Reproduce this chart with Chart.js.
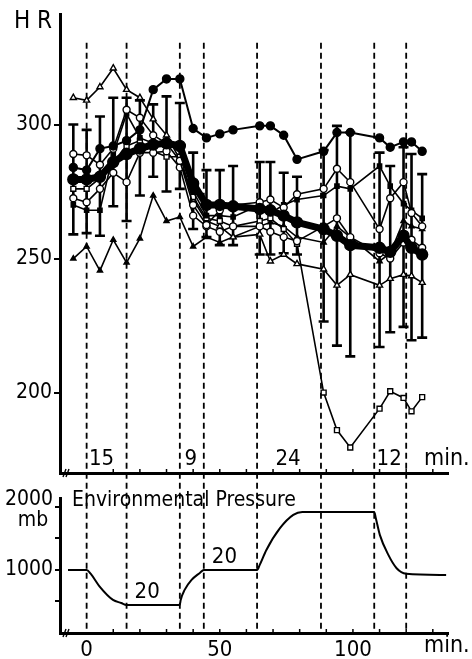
<!DOCTYPE html>
<html>
<head>
<meta charset="utf-8">
<script src="https://cdn.jsdelivr.net/npm/chart.js@4"></script>
<style>
  html, body { margin: 0; padding: 0; background: #fff; }
  #wrap { position: relative; width: 472px; height: 659px; }
  canvas { position: absolute; left: 0; top: 0; }
</style>
</head>
<body>
<div id="wrap">
  <canvas id="pressure" width="472" height="659"></canvas>
  <canvas id="hr" width="472" height="659"></canvas>
</div>
<script>
const FONT = "'Liberation Sans Narrow', 'DejaVu Sans Condensed', 'Liberation Sans', sans-serif";

// sample times (min) for heart rate
const times = [-5, 0, 5, 10, 15, 20, 25, 30, 35, 40, 45, 50, 55, 65, 69, 74, 79, 89, 94, 99, 110, 114, 119, 122, 126];

// mean HR with error bar ends
const hrMean  = [279.5, 279.5, 280.5, 286, 289, 291, 292.5, 293, 292, 278, 270, 270, 269.5, 268.5, 268, 266, 263.5, 261, 258.5, 255, 254, 252.5, 258.5, 254, 251.5];
const hrUpper = [300, 298, 303, 310, 310, 309, 307.5, 310.5, 308, 289.5, 283, 283, 284.5, 286, 286, 282, 280.5, 290.5, 299.5, 297, 289.5, 284.5, 291.5, 289, 281.5];
const hrLower = [259, 259.5, 258.5, 269.5, 264, 273.5, 280.5, 275, 276, 261, 258, 255, 255, 251.5, 251.5, 252, 251.5, 226.5, 217.5, 213.5, 217, 222.5, 224.5, 219.5, 220.5];

// individual animals
const hrOpenTriangle = [310, 309, 314, 321, 313, 310, 302, 296, 287, 272, 264, 262, 258, 259, 249, 251.5, 248, 246, 240, 244, 240, 242.5, 244, 243.5, 241];
const hrSolidTriangle = [250, 254.5, 245.5, 257, 248.5, 257.5, 273.5, 264, 265.5, 254.5, 258, 256, 258, 262, 263.5, 262, 258, 256, 262, 258, 249, 252, 264, 262, 261];
const hrSolidCircle = [284, 283, 291, 292, 294, 298, 313, 317, 317, 298.5, 295, 296.5, 298, 299.5, 299.5, 296, 287, 290, 297, 297, 295, 291.5, 293.5, 293.5, 290];
const hrOpenCircleA = [289, 288.5, 285, 291, 305.5, 302.5, 296, 293, 286.5, 270, 262.5, 268, 270, 271, 272, 269, 274, 276, 283.5, 278.5, 261, 272.5, 278.5, 267, 262];
const hrOpenCircleB = [272.5, 271, 276, 282, 278.5, 289.5, 289.5, 290, 284, 266, 262, 260, 262, 262, 260, 258, 256.5, 262, 265, 258, 252, 250, 256, 257, 254];
const hrSolidSquare = [270, 268, 268, 289, 304, 295, 293, 292, 291, 275, 266, 266, 265.5, 270, 267, 270, 272, 273.5, 277, 276, 284.5, 277, 270.5, 268, 265];
const hrOpenSquare = [276, 276, 280, 286, 292, 294, 290, 288, 288, 273, 265, 264, 262, 264, 265, 261, 255.5, 200, 186, 179.5, 194, 200.5, 198, 193, 198.3];

const hrTicks = [200, 250, 300];

// environmental pressure profile
const pressureTimes = [-7, 0, 1.5, 4.9, 9.9, 13, 15, 35, 35.3, 36.8, 39.4, 42.5, 44, 64, 65, 67.5, 72.6, 77.6, 81, 108, 108.6, 110.1, 113.3, 116.4, 120, 135];
const pressureMb    = [1000, 1000, 940, 735, 524, 476, 444, 444, 520, 683, 841, 952, 1000, 1000, 1080, 1317, 1662, 1873, 1920, 1920, 1820, 1556, 1238, 1027, 940, 920];
const pressureTicks = [500, 1000, 1500, 2000];

// phase boundaries (min) and labels
const phaseLines = [0, 15, 35, 44, 64, 88, 108, 120];
const changeLabels = ['15', '9', '24', '12'];   // between 0-15, 35-44, 64-88, 108-120
const holdLabels = ['20', '20', '20'];           // between 15-35, 44-64, 88-108
const xLabels = [0, 50, 100];

const toXY = (xs, ys) => xs.map((t, i) => ({ x: t, y: ys[i] }));

function series(data, style, radius, fill, width) {
  return {
    data: toXY(times, data),
    borderColor: '#000',
    borderWidth: width || 1.6,
    pointStyle: style,
    pointRadius: radius,
    pointBackgroundColor: fill,
    pointBorderColor: '#000',
    pointBorderWidth: 1.4,
    tension: 0
  };
}

function axisX(opts) {
  return Object.assign({
    type: 'linear', min: -10, max: 135.7,
    border: { display: true, color: '#000', width: 3 },
    grid: { display: false }
  }, opts);
}

// small upward ticks and axis break on x axis
const xDecor = {
  id: 'xDecor',
  afterDraw(chart) {
    const { ctx, chartArea, scales: { x } } = chart;
    const yb = chartArea.bottom;
    ctx.save();
    ctx.strokeStyle = '#000';
    ctx.lineWidth = 1.5;
    for (let v = 10; v <= 130; v += 10) {
      const px = x.getPixelForValue(v);
      ctx.beginPath(); ctx.moveTo(px, yb); ctx.lineTo(px, yb - 4); ctx.stroke();
    }
    ctx.lineWidth = 1.4;
    ctx.beginPath();
    ctx.moveTo(63, yb + 4); ctx.lineTo(66, yb - 4);
    ctx.moveTo(66, yb + 4); ctx.lineTo(69, yb - 4);
    ctx.stroke();
    ctx.restore();
  }
};

const prChart = new Chart(document.getElementById('pressure'), {
  type: 'line',
  data: {
    datasets: [{
      data: toXY(pressureTimes, pressureMb),
      borderColor: '#000', borderWidth: 2, pointRadius: 0,
      cubicInterpolationMode: 'monotone'
    }]
  },
  options: {
    responsive: false, animation: false,
    layout: { padding: { top: 498, right: 24, left: 0, bottom: 0 } },
    plugins: { legend: { display: false }, tooltip: { enabled: false } },
    scales: {
      x: axisX({
        afterBuildTicks: s => { s.ticks = xLabels.map(v => ({ value: v })); },
        afterFit: s => { s.height = 26; },
        ticks: { color: '#000', font: { family: FONT, size: 22 }, padding: -4 }
      }),
      y: {
        type: 'linear', min: 0, max: 2140,
        afterBuildTicks: s => { s.ticks = pressureTicks.map(v => ({ value: v })); },
        afterFit: s => { s.width = 60; },
        border: { display: true, color: '#000', width: 3 },
        grid: { display: true, drawOnChartArea: false, drawTicks: true, tickLength: 5, color: '#000', lineWidth: 2 },
        ticks: {
          color: '#000', font: { family: FONT, size: 21 }, padding: 2,
          callback: v => (v === 1000 ? '1000' : '')
        }
      }
    }
  },
  plugins: [xDecor, {
    id: 'prText',
    afterDraw(chart) {
      const { ctx, chartArea, scales: { x, y } } = chart;
      ctx.save();
      ctx.fillStyle = '#000';
      ctx.textBaseline = 'middle';
      ctx.font = `21px ${FONT}`;
      ctx.textAlign = 'right';
      ctx.fillText('2000', 53, 500);
      ctx.textAlign = 'center';
      ctx.fillText('mb', 33, 521);
      ctx.textAlign = 'left';
      ctx.font = `21px ${FONT}`;
      ctx.fillText('Environmental Pressure', 72, 501);
      ctx.font = `23px ${FONT}`;
      ctx.fillText('min.', 424, 646);
      // hold durations
      ctx.textAlign = 'center';
      ctx.font = `22px ${FONT}`;
      const holds = [[15, 35], [44, 64], [88, 108]];
      const offs = [-13, -13, 15];
      holds.forEach((h, i) => {
        const t = (h[0] + h[1]) / 2;
        const j = pressureTimes.indexOf(h[0]);
        const py = y.getPixelForValue(pressureMb[j]);
        ctx.fillText(holdLabels[i], x.getPixelForValue(t) - 6, py + offs[i]);
      });
      ctx.restore();
    }
  }]
});

const hrChart = new Chart(document.getElementById('hr'), {
  type: 'line',
  data: {
    datasets: [
      Object.assign(series(hrMean, 'circle', 5.5, '#000', 7), { borderJoinStyle: 'round', borderCapStyle: 'round' }),
      series(hrSolidCircle, 'circle', 4, '#000', 2),
      series(hrOpenCircleA, 'circle', 3.5, '#fff'),
      series(hrOpenCircleB, 'circle', 3.5, '#fff'),
      series(hrSolidSquare, 'rect', 3, '#000'),
      series(hrOpenSquare, 'rect', 3.5, '#fff'),
      series(hrOpenTriangle, 'triangle', 3.5, '#fff'),
      series(hrSolidTriangle, 'triangle', 3, '#000')
    ]
  },
  options: {
    responsive: false, animation: false,
    layout: { padding: { top: 12, right: 24, left: 0, bottom: 0 } },
    plugins: { legend: { display: false }, tooltip: { enabled: false } },
    scales: {
      x: axisX({
        afterFit: s => { s.height = 186; },
        ticks: { display: false }
      }),
      y: {
        type: 'linear', min: 170, max: 341,
        afterBuildTicks: s => { s.ticks = hrTicks.map(v => ({ value: v })); },
        afterFit: s => { s.width = 60; },
        border: { display: true, color: '#000', width: 3 },
        grid: { display: true, drawOnChartArea: false, drawTicks: true, tickLength: 6, color: '#000', lineWidth: 2 },
        ticks: { color: '#000', font: { family: FONT, size: 21 }, padding: 2 }
      }
    }
  },
  plugins: [xDecor, {
    id: 'hrExtras',
    beforeDatasetsDraw(chart) {
      const { ctx, chartArea, scales: { x, y } } = chart;
      ctx.save();
      ctx.strokeStyle = '#000';
      // phase boundaries run through both panels
      ctx.lineWidth = 1.8;
      ctx.setLineDash([6, 4]);
      phaseLines.forEach(t => {
        const px = x.getPixelForValue(t);
        ctx.beginPath();
        ctx.moveTo(px, y.getPixelForValue(330.5));
        ctx.lineTo(px, prChart.chartArea.bottom);
        ctx.stroke();
      });
      ctx.setLineDash([]);
      // error bars of the mean
      ctx.lineWidth = 2.6;
      times.forEach((t, i) => {
        const px = x.getPixelForValue(t);
        const top = y.getPixelForValue(hrUpper[i]);
        const bot = y.getPixelForValue(hrLower[i]);
        ctx.beginPath();
        ctx.moveTo(px, top); ctx.lineTo(px, bot);
        ctx.moveTo(px - 5, top); ctx.lineTo(px + 5, top);
        ctx.moveTo(px - 5, bot); ctx.lineTo(px + 5, bot);
        ctx.stroke();
      });
      ctx.restore();
    },
    afterDraw(chart) {
      const { ctx, chartArea, scales: { x } } = chart;
      ctx.save();
      ctx.fillStyle = '#000';
      ctx.textBaseline = 'middle';
      ctx.font = `24px ${FONT}`;
      ctx.fillText('H R', 14, 22);
      ctx.textAlign = 'center';
      ctx.font = `22px ${FONT}`;
      const spans = [[0, 15], [35, 44], [64, 88], [108, 120]];
      spans.forEach((s, i) => {
        const t = (s[0] + s[1]) / 2;
        ctx.fillText(changeLabels[i], x.getPixelForValue(t) - (i === 0 ? 5 : 1), chartArea.bottom - 14);
      });
      ctx.textAlign = 'left';
      ctx.font = `23px ${FONT}`;
      ctx.fillText('min.', 424, chartArea.bottom - 14);
      ctx.restore();
    }
  }]
});
</script>
</body>
</html>
